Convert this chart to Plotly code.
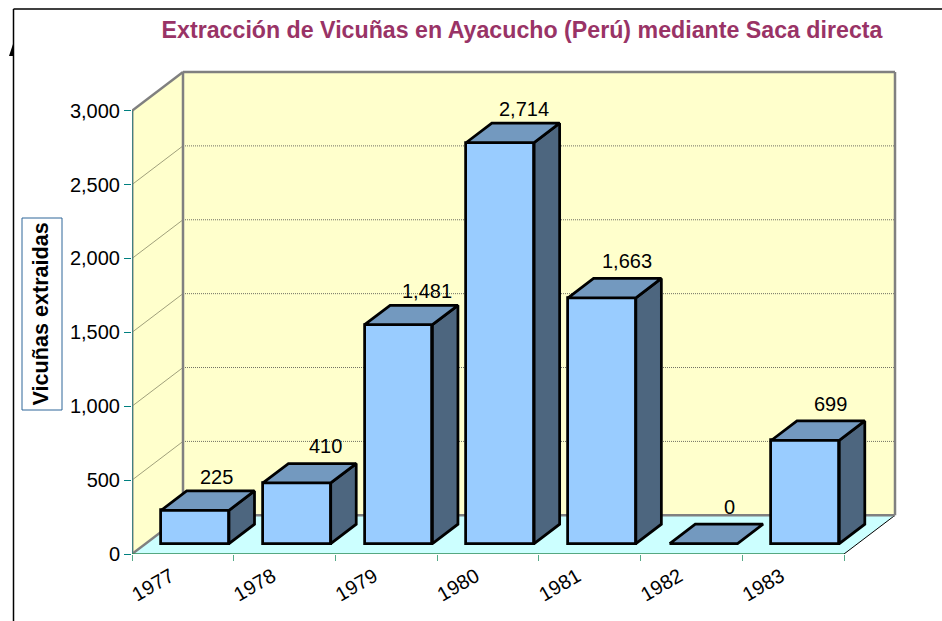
import plotly.graph_objects as go

# ---- data ----
years = ["1977", "1978", "1979", "1980", "1981", "1982", "1983"]
extracted = [225, 410, 1481, 2714, 1663, 0, 699]
value_ticks = [0, 500, 1000, 1500, 2000, 2500, 3000]
title_text = "Extracción de Vicuñas en Ayacucho (Perú) mediante Saca directa"
axis_title = "Vicuñas extraidas"
label_shift_x = [9, 16, 16, 11, 12, 13, 12]    # pixel nudges of data labels
label_shift_y = [14, 18, 14, 14, 17, 17, 17]

# ---- 3-D projection constants (axis units) ----
W, H = 942, 621
LEFT, FRONT_Y, RIGHT_EDGE, TOP_EDGE = 132, 554, 895, 72
PAD = 10
N = len(years)
CAT_PX = (844 - LEFT) / N
VAL_PX = 443.3 / 3000
DX = (RIGHT_EDGE - 844) / CAT_PX        # wall depth in category units
DY = (FRONT_Y - 515.3) / VAL_PX         # wall depth in value units
BAR_W = 2 / 3
BAR_FRONT_X, BAR_FRONT_Y, BAR_DEPTH = 0.24, 0.27, 0.5   # fractions of depth

xmax = N + DX + PAD / CAT_PX
ymax = 3000 + DY + PAD / VAL_PX

YELLOW, CYAN, GREY = "#FFFFCC", "#CCFFFF", "#808080"
FACE, TOP, SIDE = "#99CCFF", "#7399BF", "#4D667F"
TXT = "#000000"
FONT = "Liberation Sans"
EDGE = 2.75


def poly(pts, fill):
    path = "M " + " L ".join(f"{x},{y}" for x, y in pts) + " Z"
    return dict(type="path", path=path, xref="x", yref="y", fillcolor=fill, layer="below",
                line=dict(color=fill, width=0))


def seg(x0, y0, x1, y1, color, width, dash="solid"):
    return dict(type="line", x0=x0, y0=y0, x1=x1, y1=y1, xref="x", yref="y", layer="below",
                line=dict(color=color, width=width, dash=dash))


def px_x(p):
    return (p - LEFT) / (RIGHT_EDGE + PAD - LEFT)


def px_y(p):
    top = TOP_EDGE - PAD
    return 1 - (p - top) / (FRONT_Y - top)


shapes = [
    poly([(0, 0), (DX, DY), (DX, 3000 + DY), (0, 3000)], YELLOW),
    poly([(DX, DY), (N + DX, DY), (N + DX, 3000 + DY), (DX, 3000 + DY)], YELLOW),
    poly([(0, 0), (N, 0), (N + DX, DY), (DX, DY)], CYAN),
]
for v in value_ticks[1:-1]:
    shapes.append(seg(0, v, DX, v + DY, "#808060", 0.75))
    shapes.append(seg(DX, v + DY, N + DX, v + DY, "#404040", 0.75, "1px,1px"))
shapes += [
    seg(N, 0, N + DX, DY, "#000000", 1),
    seg(0, 0, DX, DY, GREY, 2.5),
    seg(DX, DY, N + DX, DY, GREY, 2.5),
    seg(DX, DY, DX, 3000 + DY, GREY, 2.5),
    seg(N + DX, DY, N + DX, 3000 + DY, GREY, 2.5),
    seg(0, 3000, DX, 3000 + DY, GREY, 2.5),
    seg(DX, 3000 + DY, N + DX, 3000 + DY, GREY, 2.5),
]
# outer frame of the picture, the clipped glyph behind it, and the axis-title box
shapes += [
    dict(type="line", xref="paper", yref="paper", x0=px_x(13.5), x1=px_x(942), y0=px_y(9), y1=px_y(9),
         line=dict(color="#000000", width=1.5)),
    dict(type="line", xref="paper", yref="paper", x0=px_x(13.5), x1=px_x(13.5), y0=px_y(9), y1=px_y(621),
         line=dict(color="#000000", width=1.5)),
    dict(type="path", xref="paper", yref="paper", fillcolor="#000000", line=dict(width=0),
         path=f"M {px_x(13)},{px_y(44)} L {px_x(9)},{px_y(56)} L {px_x(13)},{px_y(56)} Z"),
    dict(type="rect", xref="paper", yref="paper", x0=px_x(22), x1=px_x(62), y0=px_y(218), y1=px_y(410),
         fillcolor="#FFFFFF", line=dict(color="#2F6699", width=1)),
]

fig = go.Figure()

# front faces
fig.add_trace(go.Bar(
    x=[i + 0.5 + BAR_FRONT_X * DX for i in range(N)],
    y=extracted,
    base=BAR_FRONT_Y * DY,
    width=BAR_W,
    marker=dict(color=FACE, line=dict(color="#000000", width=EDGE)),
    cliponaxis=False,
    showlegend=False,
))

# top and side faces
annotations = []
for i, v in enumerate(extracted):
    x0 = i + 0.5 - BAR_W / 2 + BAR_FRONT_X * DX
    x1 = x0 + BAR_W
    ddx, ddy = BAR_DEPTH * DX, BAR_DEPTH * DY
    b = BAR_FRONT_Y * DY
    if v > 0:
        fig.add_trace(go.Scatter(
            x=[x1, x1 + ddx, x1 + ddx, x1, x1],
            y=[b, b + ddy, b + v + ddy, b + v, b],
            mode="lines", fill="toself", fillcolor=SIDE,
            line=dict(color="#000000", width=EDGE), showlegend=False, cliponaxis=False))
    fig.add_trace(go.Scatter(
        x=[x0, x1, x1 + ddx, x0 + ddx, x0],
        y=[b + v, b + v, b + v + ddy, b + v + ddy, b + v],
        mode="lines", fill="toself", fillcolor=TOP,
        line=dict(color="#000000", width=EDGE), showlegend=False, cliponaxis=False))
    annotations.append(dict(
        x=(x0 + x1 + ddx) / 2, y=b + v + ddy, xref="x", yref="y", text=f"{v:,}",
        showarrow=False, xshift=label_shift_x[i], yshift=label_shift_y[i],
        font=dict(family=FONT, size=20, color=TXT)))

# axis lines
fig.add_trace(go.Scatter(x=[0, 0], y=[0, 3000], mode="lines", line=dict(color=GREY, width=3),
                         showlegend=False, cliponaxis=False))
fig.add_trace(go.Scatter(x=[0, 0], y=[0, 3000], mode="lines", line=dict(color="#008080", width=1),
                         showlegend=False, cliponaxis=False))
fig.add_trace(go.Scatter(x=[0, N], y=[0, 0], mode="lines", line=dict(color="#2E8B57", width=1.5),
                         showlegend=False, cliponaxis=False))

annotations.append(dict(
    x=px_x(40), y=px_y(314.5), xref="paper", yref="paper", xanchor="center", yanchor="middle",
    text=f"<b>{axis_title}</b>", textangle=-90,
    showarrow=False, font=dict(family=FONT, size=21.6, color=TXT)))

fig.update_layout(
    width=W, height=H,
    margin=dict(l=LEFT, r=W - RIGHT_EDGE - PAD, t=TOP_EDGE - PAD, b=H - FRONT_Y, pad=0, autoexpand=False),
    paper_bgcolor="#FFFFFF", plot_bgcolor="#FFFFFF",
    title=dict(text=f"<b>{title_text}</b>", x=522 / W, xanchor="center", y=1 - 30 / H, yanchor="middle",
               font=dict(family=FONT, size=23.2, color="#993366")),
    shapes=shapes, annotations=annotations, showlegend=False, bargap=0,
    xaxis=dict(range=[0, xmax], showgrid=False, zeroline=False, showline=False,
               tickmode="array", tickvals=[i + 0.38 for i in range(N)], ticktext=years,
               ticks="", tickangle=-30, ticklabelstandoff=6, tickfont=dict(family=FONT, size=20, color=TXT),
               minor=dict(tickmode="array", tickvals=list(range(N + 1)), ticks="outside", ticklen=6,
                          tickcolor="#55AA88", tickwidth=1)),
    yaxis=dict(range=[0, ymax], showgrid=False, zeroline=False, showline=False,
               tickmode="array", tickvals=value_ticks, tickformat=",",
               ticks="outside", ticklen=7, tickwidth=1, tickcolor="#008080",
               tickfont=dict(family=FONT, size=20, color=TXT)),
)

fig.write_html("out.html", config={"displayModeBar": False},
               post_script="document.body.style.margin='0';document.body.style.overflow='hidden';")
